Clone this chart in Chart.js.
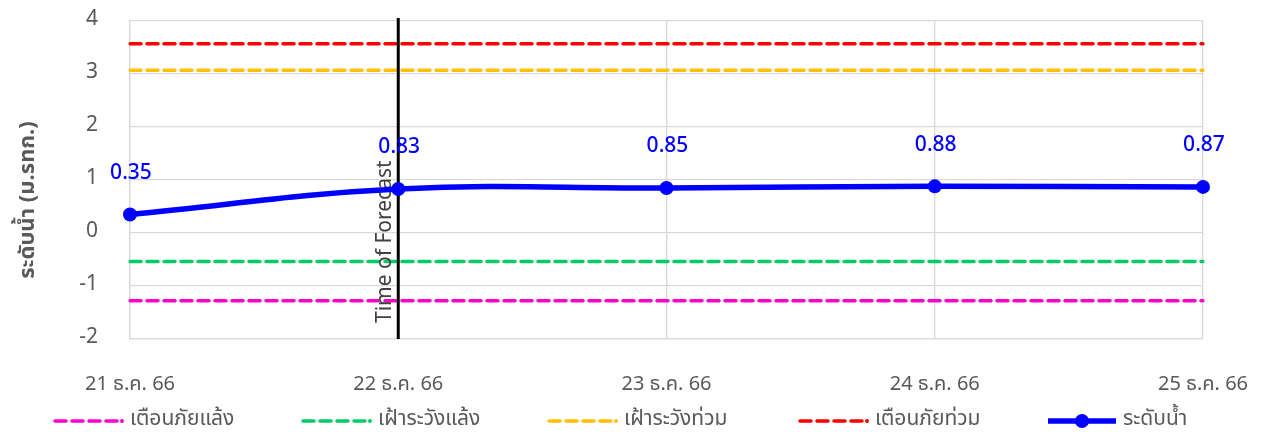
<!DOCTYPE html>
<html><head><meta charset="utf-8">
<script src="https://cdn.jsdelivr.net/npm/chart.js@4/dist/chart.umd.min.js"></script>
<style>html,body{margin:0;padding:0;background:#fff}#wrap{width:1263px;height:432px}</style>
</head><body><div id="wrap"><canvas id="c" width="1263" height="432"></canvas></div>
<script>
const categories = ['21 ธ.ค. 66', '22 ธ.ค. 66', '23 ธ.ค. 66', '24 ธ.ค. 66', '25 ธ.ค. 66'];
const waterLevel = [0.35, 0.83, 0.85, 0.88, 0.87];          // ระดับน้ำ
const droughtWarning = [-1.28, -1.28, -1.28, -1.28, -1.28];  // เตือนภัยแล้ง
const droughtWatch = [-0.54, -0.54, -0.54, -0.54, -0.54];    // เฝ้าระวังแล้ง
const floodWatch = [3.07, 3.07, 3.07, 3.07, 3.07];           // เฝ้าระวังท่วม
const floodWarning = [3.57, 3.57, 3.57, 3.57, 3.57];         // เตือนภัยท่วม
const seriesNames = ['เตือนภัยแล้ง', 'เฝ้าระวังแล้ง', 'เฝ้าระวังท่วม', 'เตือนภัยท่วม', 'ระดับน้ำ'];
const yMin = -2, yMax = 4, yStep = 1;
const forecastIndex = 1;
const forecastText = 'Time of Forecast';
const yTitle = 'ระดับน้ำ (ม.รทก.)';

const FONT = '"Noto Sans Thai","Leelawadee UI","Tahoma","Noto Sans",sans-serif';
const GRAY = '#595959';

function dashed(label, data, color) {
  return { label, data, borderColor: color, backgroundColor: color, borderWidth: 3.5,
    borderDash: [11, 6], borderCapStyle: 'round', pointRadius: 0, pointHoverRadius: 0,
    tension: 0, order: 2 };
}

const datasets = [
  dashed(seriesNames[0], droughtWarning, '#FF00CC'),
  dashed(seriesNames[1], droughtWatch, '#00CC66'),
  dashed(seriesNames[2], floodWatch, '#FFC000'),
  dashed(seriesNames[3], floodWarning, '#FF0000'),
  { label: seriesNames[4], data: waterLevel, borderColor: '#0000FF', backgroundColor: '#0000FF',
    borderWidth: 5.5, pointRadius: 7, pointBorderWidth: 0, pointHoverRadius: 7,
    tension: 0.4, cubicInterpolationMode: 'default', order: 0, isMain: true }
];

const overlay = {
  id: 'overlay',
  beforeDatasetDraw(chart, args) {
    if (!chart.data.datasets[args.index].isMain) return;
    const ctx = chart.ctx, a = chart.chartArea;
    const x = chart.scales.x.getPixelForValue(forecastIndex);
    ctx.save();
    ctx.strokeStyle = '#000'; ctx.lineWidth = 3;
    ctx.beginPath(); ctx.moveTo(x, a.top - 3); ctx.lineTo(x, a.bottom); ctx.stroke();
    ctx.translate(x - 12, a.bottom - 16);
    ctx.rotate(-Math.PI / 2);
    ctx.fillStyle = '#404040'; ctx.font = '21px ' + FONT;
    ctx.textAlign = 'left'; ctx.textBaseline = 'middle';
    ctx.fillText(forecastText, 0, 0);
    ctx.restore();
  },
  afterDatasetsDraw(chart) {
    const ctx = chart.ctx;
    const idx = chart.data.datasets.findIndex(d => d.isMain);
    const meta = chart.getDatasetMeta(idx);
    ctx.save();
    ctx.fillStyle = '#0000FF'; ctx.font = '500 21px ' + FONT;
    ctx.textAlign = 'center'; ctx.textBaseline = 'middle';
    meta.data.forEach((pt, i) => {
      ctx.fillText(chart.data.datasets[idx].data[i].toFixed(2), pt.x + 1, pt.y - 40);
    });
    ctx.restore();
  },
  afterDraw(chart) {
    const ctx = chart.ctx;
    ctx.save();
    ctx.translate(30, 200);
    ctx.rotate(-Math.PI / 2);
    ctx.fillStyle = GRAY; ctx.font = 'bold 22px ' + FONT;
    ctx.textAlign = 'center'; ctx.textBaseline = 'middle';
    ctx.fillText(yTitle, 0, 0);
    ctx.restore();
    const starts = [55, 303, 549, 800, 1048];
    const y = 421;
    ctx.save();
    ctx.font = '21px ' + FONT; ctx.textBaseline = 'middle'; ctx.textAlign = 'left';
    chart.data.datasets.forEach((ds, i) => {
      const x0 = starts[i], x1 = x0 + 68;
      ctx.strokeStyle = ds.borderColor; ctx.fillStyle = ds.borderColor;
      ctx.lineCap = ds.isMain ? 'butt' : 'round';
      ctx.lineWidth = ds.isMain ? 5.5 : 3.5;
      ctx.setLineDash(ds.isMain ? [] : [11, 6]);
      ctx.beginPath();
      if (ds.isMain) { ctx.moveTo(x0, y); ctx.lineTo(x1, y); }
      else { ctx.moveTo(x0, y); ctx.lineTo(x1 - 6, y); }
      ctx.stroke();
      ctx.setLineDash([]);
      ctx.beginPath();
      if (ds.isMain) ctx.arc((x0 + x1) / 2, y, 7, 0, Math.PI * 2);
      else ctx.arc(x1 - 1, y, 2, 0, Math.PI * 2);
      ctx.fill();
      ctx.fillStyle = GRAY;
      ctx.fillText(ds.label, x1 + 7, y);
    });
    ctx.restore();
  }
};

new Chart(document.getElementById('c'), {
  type: 'line',
  data: { labels: categories, datasets },
  options: {
    responsive: false, devicePixelRatio: 1, animation: false,
    layout: { padding: { left: 0, right: 60, top: 21, bottom: 0 } },
    plugins: { legend: { display: false }, tooltip: { enabled: false } },
    scales: {
      x: {
        offset: false,
        grid: { color: '#D9D9D9', lineWidth: 1.3, drawTicks: false, tickLength: 0 },
        border: { color: '#D9D9D9', width: 1.3 },
        ticks: { color: GRAY, font: { family: FONT, size: 20 }, padding: 35, maxRotation: 0, autoSkip: false },
        afterFit(s) { s.height = 93; s.paddingLeft = 0; s.paddingRight = 0; s.paddingTop = 0; s.paddingBottom = 0; }
      },
      y: {
        min: yMin, max: yMax,
        grid: { color: '#D9D9D9', lineWidth: 1.3, drawTicks: false, tickLength: 0 },
        border: { color: '#D9D9D9', width: 1.3 },
        ticks: { stepSize: yStep, color: GRAY, font: { family: FONT, size: 21 }, padding: 32 },
        afterFit(s) { s.width = 130; s.paddingLeft = 0; s.paddingRight = 0; s.paddingTop = 0; s.paddingBottom = 0; }
      }
    }
  },
  plugins: [overlay]
});
</script>
</body></html>
